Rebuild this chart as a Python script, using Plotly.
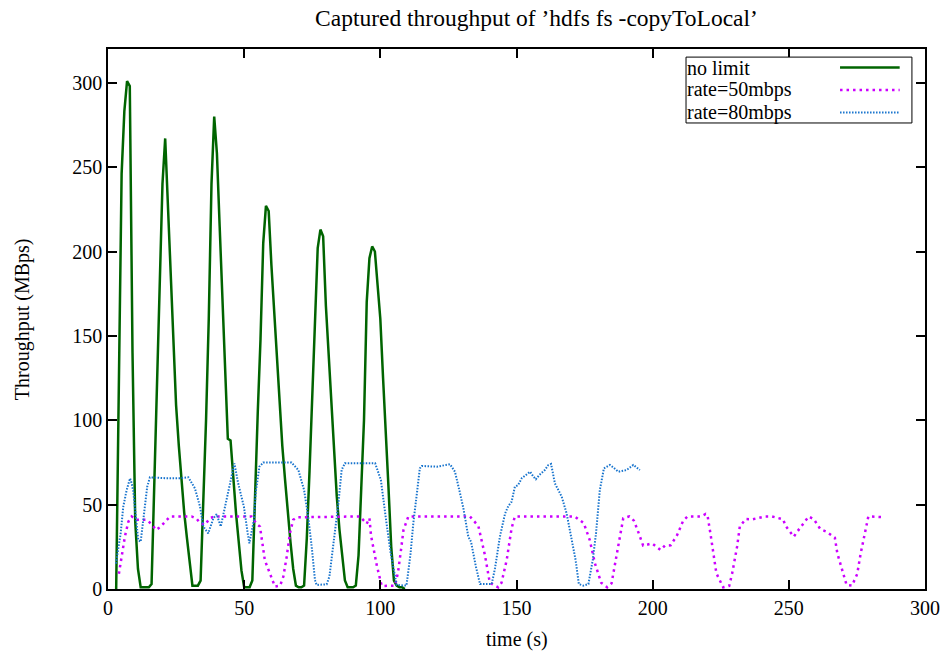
import plotly.graph_objects as go

# ---- data (time in s, throughput in MBps) ----
nolimit_t = [3, 4, 5, 6, 7, 8, 9, 10, 11, 12, 13, 14, 15, 16, 17, 18, 19, 20, 21, 22, 23, 24, 25, 26, 27, 28, 29, 30,
             31, 32, 33, 34, 35, 36, 37, 38, 39, 40, 41, 42, 43, 44, 45, 46, 47, 48, 49, 50, 51, 52, 53, 54, 55, 56,
             57, 58, 59, 60, 61, 62, 63, 64, 65, 66, 67, 68, 69, 70, 71, 72, 73, 74, 75, 76, 77, 78, 79, 80, 81, 82,
             83, 84, 85, 86, 87, 88, 89, 90, 91, 92, 93, 94, 95, 96, 97, 98, 99, 100, 101, 102, 103, 104, 105, 106,
             107, 108, 109]
nolimit_v = [0, 120, 246, 283, 301, 298, 140, 40, 12, 1, 1, 1, 1, 3, 60, 120, 180, 240, 267, 228, 188, 148, 109, 85,
             62, 45, 30, 15, 2, 2, 2, 5, 50, 100, 160, 240, 280, 258, 215, 170, 130, 89, 88, 65, 45, 28, 11, 1, 1, 1,
             5, 60, 105, 148, 205, 227, 224, 192, 165, 140, 110, 85, 65, 45, 28, 12, 2, 1, 1, 2, 30, 70, 115, 162,
             202, 213, 209, 168, 140, 110, 80, 55, 35, 18, 5, 1, 1, 1, 2, 20, 60, 100, 170, 196, 203, 200, 180, 160,
             125, 95, 60, 25, 5, 2, 1, 1, 0]

rate50_t = [4.0, 5.3, 6.2, 7.5, 8.7, 10.5, 12.4, 14.2, 16.3, 17.6, 19.1, 20.9, 22.8, 30.7, 32.5, 33.8, 35.6, 37.4,
            39.3, 52.7, 54.6, 55.8, 56.6, 57.6, 59.5, 61.3, 63.2, 64.4, 65.6, 66.8, 68.0, 69.3, 92.5, 95.0, 96.0,
            96.6, 98.7, 100.5, 105.4, 106.5, 107.5, 108.5, 110.3, 132.9, 136.0, 138.4, 140.2, 143.3, 144.5, 146.4,
            148.2, 149.4, 171.4, 174.7, 176.9, 178.8, 181.1, 183.3, 184.9, 186.5, 188.2, 189.2, 191.4, 193.1, 194.9,
            196.5, 199.8, 202.9, 204.5, 206.6, 209.0, 211.2, 212.8, 217.7, 219.5, 220.1, 221.2, 222.2, 223.4, 225.9,
            228.1, 229.2, 231.0, 232.0, 234.2, 236.7, 241.2, 243.8, 247.9, 248.8, 250.1, 251.8, 253.1, 255.9, 257.3,
            259.2, 261.6, 263.8, 266.9, 267.8, 269.3, 271.2, 273.2, 275.1, 276.4, 277.7, 279.2, 284.3]
rate50_v = [9, 21, 31, 40, 43, 41, 41, 41, 38, 35, 36.6, 40, 43, 43, 41.7, 39, 38, 42,
            43, 43, 38.5, 37, 28, 17, 9, 1.4, 2, 7.4, 19, 33, 41, 42.5, 43, 38.7, 42,
            31.5, 14, 1.8, 2, 10, 22, 35, 43, 43, 37.3, 20.1, 3.7, 1.0, 3.7, 17.2,
            36, 43, 43, 39, 29.0, 15.2, 3.7, 1.0, 3.3, 17.2, 34, 41.9, 43, 40.5, 33,
            25.7, 27.0, 23.1, 25.7, 25.9, 32, 40.5, 43, 43, 44.5, 44, 33, 21.2, 9.3, 1.0,
            1.8, 9.3, 25.1, 37, 41.5, 41.3, 43, 43, 41.3, 37.4, 34.6, 31, 34, 40, 43,
            41.3, 35.4, 34, 30.4, 21.2, 13.2, 2.4, 2.0, 8.9, 21.2, 32, 43, 42.6]

rate80_t = [2.9, 3.8, 4.65, 5.6, 6.85, 8.1, 8.7, 9.3, 9.9, 10.5, 11.1, 12.0, 12.7, 13.6, 14.4, 15.4, 21.5, 26.4,
            29.5, 31.9, 33.8, 35.0, 36.8, 38.7, 39.9, 41.4, 42.9, 45.0, 46.4, 47.8, 49.9, 51.3, 51.9, 53.6, 54.2,
            55.6, 57.0, 67.4, 69.9, 72.0, 73.5, 74.8, 76.0, 76.6, 80.3, 81.3, 82.7, 84.6, 85.8, 87.0, 98.1, 100.2,
            102.1, 103.8, 106.0, 109.6, 111.1, 112.1, 113.3, 114.5, 115.2, 120.7, 125.6, 127.4, 129.0, 130.5, 132.3,
            133.3, 135.1, 136.6, 140.9, 142.1, 143.9, 145.8, 147.0, 148.2, 149.4, 150.6, 151.9, 155.0, 156.2, 157.1,
            158.4, 160.4, 161.7, 162.7, 164.1, 166.6, 168.4, 170.2, 171.7, 172.9, 174.5, 176.4, 178.0, 179.2, 180.6,
            182.1, 184.3, 185.5, 187.4, 190.4, 192.9, 195.3]
rate80_v = [15, 23, 33, 48.7, 58.6, 65.6, 62.6, 57.7, 47, 35, 29, 28, 37, 48.7, 60.6, 66.2, 65.6, 65.6,
            66.2, 59.7, 48.8, 37, 33, 41.9, 44.3, 37, 47.8, 63.6, 74.4, 62.6, 48.8, 33, 27.1, 41, 56.7,
            72.5, 74.9, 74.9, 70.5, 58.7, 42.9, 25.1, 5.3, 2.4, 2.8, 7.4, 25.1, 50.8, 70.6, 74.5, 74.5, 64.6,
            41, 21.2, 2.4, 2.0, 21, 38.9, 55, 71.5, 72.9, 72.5, 73.9, 69.5, 58.6, 47.8, 31,
            28, 13.2, 2.9, 2.9, 12.2, 31, 44.7, 49.2, 51.7, 60.6, 61.6, 65.6, 69.5, 66.6, 65,
            67.6, 70.5, 73.5, 74.1, 62.6, 54.7, 44.8, 29, 17.2, 2.9, 2, 2.9, 17.2, 33, 58.7,
            71.5, 73.5, 72.1, 69.5, 70.5, 73.5, 70.5]

series_names = ["no limit", "rate=50mbps", "rate=80mbps"]
x_ticks = [0, 50, 100, 150, 200, 250, 300]
y_ticks = [0, 50, 100, 150, 200, 250, 300]

# ---- styling ----
FONT = "Liberation Serif"
GREEN = "#006400"
MAGENTA = "#cc00ff"
BLUE = "#1874cd"
styles = [
    dict(color=GREEN, width=2.5, dash="solid"),
    dict(color=MAGENTA, width=2.5, dash="2.5px,4px"),
    dict(color=BLUE, width=2, dash="1.5px,1.5px"),
]

fig = go.Figure()
for (t, v), name, st in zip([(nolimit_t, nolimit_v), (rate50_t, rate50_v), (rate80_t, rate80_v)],
                            series_names, styles):
    fig.add_trace(go.Scatter(x=t, y=v, mode="lines", name=name, line=st, showlegend=False))

axis_common = dict(
    showline=True, linecolor="black", linewidth=1.5, mirror="ticks",
    ticks="inside", ticklen=9, tickwidth=1.5, tickcolor="black",
    showgrid=False, zeroline=False, automargin=False,
    tickfont=dict(family=FONT, size=20, color="black"),
)
fig.update_xaxes(range=[0, 300], tickvals=x_ticks, ticktext=[str(v) for v in x_ticks], **axis_common)
fig.update_yaxes(range=[0, 320], tickvals=y_ticks, ticktext=[str(v) for v in y_ticks], **axis_common)

# ---- gnuplot-style legend box (text left, sample right) ----
lx0, lx1, ly0, ly1 = 0.7075, 0.984, 0.863, 0.985
shapes = [dict(type="rect", xref="paper", yref="paper", x0=lx0, x1=lx1, y0=ly0, y1=ly1,
               line=dict(color="black", width=1), fillcolor="white", layer="above")]
annotations = []
row_y = [0.9657, 0.9241, 0.8824]
for name, st, ry in zip(series_names, styles, row_y):
    annotations.append(dict(text=name, xref="paper", yref="paper", x=lx0 - 0.001, y=ry,
                            xanchor="left", yanchor="middle", showarrow=False,
                            font=dict(family=FONT, size=20, color="black")))
    shapes.append(dict(type="line", xref="paper", yref="paper", x0=0.896, x1=0.969, y0=ry, y1=ry,
                       line=st, layer="above"))

# axis titles
annotations.append(dict(text="time (s)", xref="paper", yref="paper", x=0.5, y=-0.0944,
                        xanchor="center", yanchor="middle", showarrow=False,
                        font=dict(family=FONT, size=20, color="black")))
annotations.append(dict(text="Throughput (MBps)", xref="paper", yref="paper", x=-0.105, y=0.5,
                        xanchor="center", yanchor="middle", textangle=-90, showarrow=False,
                        font=dict(family=FONT, size=20, color="black")))

fig.update_layout(
    width=950, height=659,
    margin=dict(l=108, r=25, t=49, b=70),
    paper_bgcolor="white", plot_bgcolor="white",
    title=dict(text="Captured throughput of \u2019hdfs fs -copyToLocal\u2019", x=0.5647, xanchor="center",
               y=0.9727, yanchor="middle", font=dict(family=FONT, size=23.5, color="black")),
    shapes=shapes, annotations=annotations, showlegend=False,
)

fig.write_html("out.html", config={"displayModeBar": False},
               post_script="document.body.style.margin='0px';")
